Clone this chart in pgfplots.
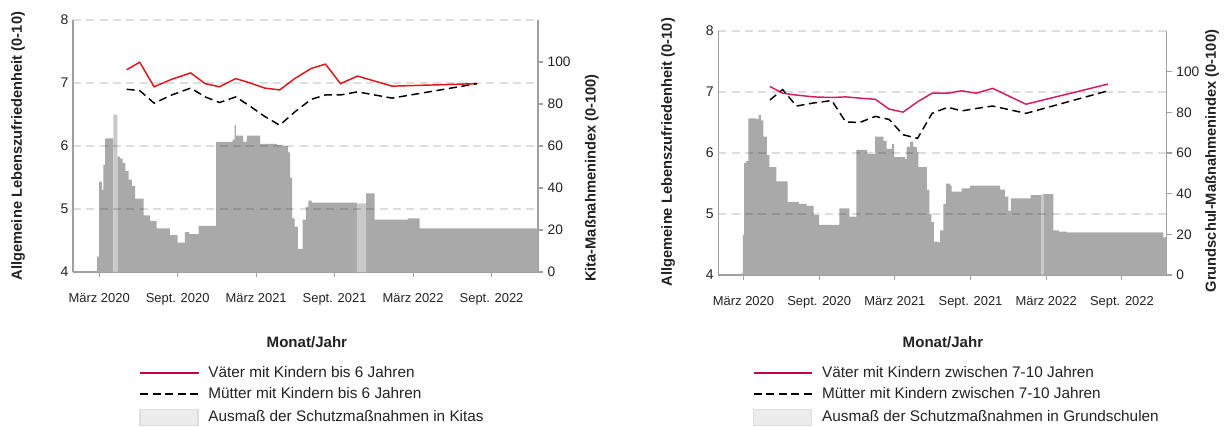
\documentclass[border=0pt]{standalone}
\usepackage{fontspec}
\setmainfont{Liberation Sans}
\usepackage{pgfplots}
\pgfplotsset{compat=1.18}
\definecolor{barg}{HTML}{A9A9A9}
\definecolor{barl}{HTML}{C9C9C9}
\definecolor{redA}{HTML}{E3131B}
\definecolor{redB}{HTML}{D81B60}
\definecolor{redL}{HTML}{CC0044}
\definecolor{axg}{HTML}{A0A0A0}
\definecolor{txt}{HTML}{222222}
\definecolor{legf}{HTML}{ECECEC}
\definecolor{legd}{HTML}{DDDDDD}
\pgfplotsset{
  base/.style={scale only axis, xmin=0, xmax=35.55,
    /pgf/number format/assume math mode=true,
    axis line style={axg, line width=0.8pt},
    tick style={axg, line width=0.8pt}},
  barax/.style={base, axis y line*=right, axis x line*=bottom,
    ymin=0, ymax=120, ytick={0,20,...,100},
    xtick={2,8,14,20,26,32},
    xticklabels={März 2020,Sept. 2020,März 2021,Sept. 2021,März 2022,Sept. 2022},
    tick align=outside, major tick length=3.75pt,
    xticklabel style={font=\fontsize{9.7}{11}\selectfont, text=txt, yshift=-8.5pt},
    yticklabel style={font=\fontsize{10.3}{12}\selectfont, text=txt},
    ylabel style={anchor=center, font=\bfseries\fontsize{11}{13}\selectfont, text=txt},
    xlabel style={anchor=center, font=\bfseries\fontsize{11.3}{13}\selectfont, text=txt},
    xlabel={Monat/Jahr}},
  lineax/.style={base, axis y line*=left, axis x line=none,
    ymin=4, ymax=8, ytick={5,6,7,8},
    extra y ticks={4}, extra y tick style={grid=none},
    ymajorgrids, grid style={black, opacity=0.13, line width=1.2pt, dash pattern=on 6pt off 4pt},
    major tick length=0pt,
    yticklabel style={font=\fontsize{10.5}{12}\selectfont, text=txt},
    ylabel style={anchor=center, font=\bfseries\fontsize{11}{13}\selectfont, text=txt},
    ylabel={Allgemeine Lebenszufriedenheit (0-10)},
    legend cell align=left,
    legend style={anchor=north west, draw=none, fill=none, inner sep=0pt, outer sep=0pt,
      row sep=5.2pt, column sep=6pt, font=\fontsize{11.5}{13.8}\selectfont, text=txt,
      nodes={inner sep=0.5pt}},
    legend image code/.code={\draw[##1] (0pt,0pt) -- (44pt,0pt);}},
  areaimg/.style={fill=legf, draw=legd, line width=0.8pt,
    legend image code/.code={\draw[##1] (0pt,-6pt) rectangle (43.5pt,6pt);}}
}
\begin{document}
\begin{tikzpicture}
\useasboundingbox (0,0) rectangle (918.75pt,319.5pt);
% ---------------- left panel: bars ----------------
\begin{axis}[barax, at={(54.75pt,115.5pt)}, anchor=south west, width=348.75pt, height=189pt,
  ylabel={Kita-Maßnahmenindex (0-100)},
  ylabel style={at={(rel axis cs:1.116,0.373)}},
  xlabel style={at={(rel axis cs:0.503,-0.278)}}]
\addplot[fill=barg, draw=none, const plot mark left] coordinates {
(1.85,7.3) (2.0,43) (2.2,39) (2.32,51) (2.45,63.6) (3.09,0) (3.39,55) (3.6,54) (3.8,52)
(4.0,48) (4.25,44) (4.5,41) (4.75,35) (5.4,27) (5.9,24.4) (6.4,20.8) (7.4,17.6) (8.0,14)
(8.55,19) (8.9,18) (9.6,22) (10.95,62) (12.2,63) (12.35,70) (12.45,65) (13.0,62) (13.3,65)
(13.9,65) (14.3,61) (15.6,60.5) (16.1,60) (16.45,57) (16.6,45) (16.75,25.5) (16.95,21.6)
(17.2,11) (17.55,25) (17.8,31) (18.0,34) (18.25,33) (21.7,0) (22.4,37.5) (23.05,25)
(25.6,25.5) (26.5,20.8) (35.55,20.8)} \closedcycle;
\addplot[fill=barl, draw=none, const plot mark left] coordinates {(3.09,75) (3.39,75)} \closedcycle;
\addplot[fill=barl, draw=none, const plot mark left] coordinates {(21.7,32.7) (22.4,32.7)} \closedcycle;
\end{axis}
% ---------------- left panel: lines ----------------
\begin{axis}[lineax, at={(54.75pt,115.5pt)}, anchor=south west, width=348.75pt, height=189pt,
  ylabel style={at={(rel axis cs:-0.118,0.5)}},
  legend style={at={(rel axis cs:0.142,-0.372)}}]
\addplot[redA, line width=1.1pt, forget plot] coordinates {
(4.1,7.21) (5.1,7.33) (6.2,6.94) (7.55,7.06) (9.0,7.16) (10.1,6.99) (11.2,6.94) (12.45,7.07)
(13.55,7.0) (14.65,6.92) (15.8,6.89) (16.95,7.07) (18.2,7.23) (19.3,7.30) (20.45,6.99)
(21.75,7.11) (24.4,6.95) (30.9,6.99)};
\addplot[black, line width=1.1pt, dash pattern=on 6pt off 3.5pt, forget plot] coordinates {
(4.1,6.90) (5.1,6.88) (6.2,6.68) (7.55,6.81) (9.0,6.92) (10.1,6.78) (11.2,6.69) (12.45,6.78)
(13.55,6.63) (14.65,6.47) (15.8,6.33) (16.95,6.54) (18.2,6.74) (19.3,6.81) (20.45,6.81)
(21.75,6.86) (24.4,6.76) (30.9,6.99)};
\addlegendimage{redL, line width=1.5pt}
\addlegendentry{Väter mit Kindern bis 6 Jahren}
\addlegendimage{black, line width=1.5pt, dash pattern=on 6pt off 3.4pt}
\addlegendentry{Mütter mit Kindern bis 6 Jahren}
\addlegendimage{areaimg}
\addlegendentry{Ausmaß der Schutzmaßnahmen in Kitas}
\end{axis}
% ---------------- right panel: bars ----------------
\begin{axis}[barax, at={(538.7pt,113.25pt)}, anchor=south west, width=336.3pt, height=183pt,
  ylabel={Grundschul-Maßnahmenindex (0-100)},
  ylabel style={at={(rel axis cs:1.101,0.467)}},
  xlabel style={at={(rel axis cs:0.501,-0.275)}}]
\addplot[fill=barg, draw=none, const plot mark left] coordinates {
(1.87,0.8) (1.95,19.7) (2.05,55) (2.21,56) (2.39,77) (3.0,76.6) (3.19,78.7) (3.37,76)
(3.58,68) (3.85,59) (4.05,53) (4.6,46) (5.5,36) (6.4,35) (7.0,34) (7.55,29.5) (8.0,24.6)
(9.6,32.8) (10.4,28.7) (10.95,61.5) (11.8,59.5) (12.43,68) (13.09,66) (13.35,62) (13.76,64.4)
(13.94,58) (14.81,57) (14.94,63) (15.2,65.6) (15.47,63) (15.74,60.6) (15.87,53) (16.53,41.8)
(16.74,30) (16.9,26) (17.1,16.4) (17.45,16) (17.58,22) (17.85,35) (18.06,45) (18.38,44)
(18.51,41) (19.3,42.6) (19.96,44) (22.34,42) (22.73,38.5) (23.0,31.6) (23.19,37.7)
(24.77,39.3) (25.64,0) (25.77,39.8) (26.56,22) (27.0,21.3) (27.62,21) (35.28,18.5) (35.55,18.5)}
\closedcycle;
\addplot[fill=barl, draw=none, const plot mark left] coordinates {(25.64,39.6) (25.77,39.6)} \closedcycle;
\end{axis}
% ---------------- right panel: lines ----------------
\begin{axis}[lineax, at={(538.7pt,113.25pt)}, anchor=south west, width=336.3pt, height=183pt,
  ylabel style={at={(rel axis cs:-0.112,0.504)}},
  legend style={at={(rel axis cs:0.077,-0.372)}}]
\addplot[redB, line width=1.1pt, forget plot] coordinates {
(4.1,7.09) (5.1,6.98) (6.2,6.95) (7.55,6.92) (9.0,6.91) (10.1,6.92) (11.2,6.90) (12.45,6.88)
(13.55,6.72) (14.65,6.67) (15.8,6.84) (16.95,6.98) (18.2,6.98) (19.3,7.02) (20.45,6.98)
(21.75,7.06) (24.4,6.80) (30.9,7.13)};
\addplot[black, line width=1.1pt, dash pattern=on 6pt off 3.5pt, forget plot] coordinates {
(4.1,6.87) (5.1,7.04) (6.2,6.77) (7.55,6.82) (9.0,6.86) (10.1,6.51) (11.2,6.50) (12.45,6.60)
(13.55,6.55) (14.65,6.30) (15.8,6.24) (16.95,6.65) (18.2,6.75) (19.3,6.69) (20.45,6.73)
(21.75,6.77) (24.4,6.65) (30.9,7.02)};
\addlegendimage{redL, line width=1.5pt}
\addlegendentry{Väter mit Kindern zwischen 7-10 Jahren}
\addlegendimage{black, line width=1.5pt, dash pattern=on 6pt off 3.4pt}
\addlegendentry{Mütter mit Kindern zwischen 7-10 Jahren}
\addlegendimage{areaimg}
\addlegendentry{Ausmaß der Schutzmaßnahmen in Grundschulen}
\end{axis}
\end{tikzpicture}
\end{document}
